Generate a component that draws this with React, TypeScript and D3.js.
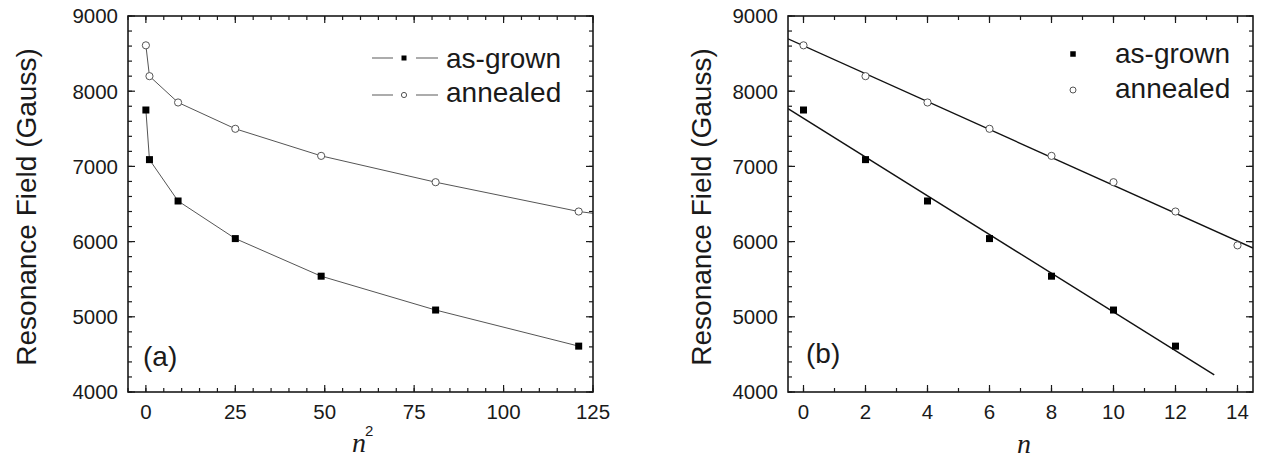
import React from "react";
import * as d3 from "d3";

// ---------- data ----------
const nSquaredAsGrown = [0, 1, 9, 25, 49, 81, 121];
const nSquaredAnnealed = [0, 1, 9, 25, 49, 81, 121, 196];
const nAsGrown = [0, 2, 4, 6, 8, 10, 12];
const nAnnealed = [0, 2, 4, 6, 8, 10, 12, 14];
const asGrown = [7750, 7090, 6540, 6040, 5540, 5090, 4610];
const annealed = [8610, 8200, 7850, 7500, 7140, 6790, 6400, 5950];
const fitRangeAsGrown = [-0.5, 13.25];
const fitRangeAnnealed = [-0.5, 14.5];

const xDomainA = [-5, 125];
const xDomainB = [-0.5, 14.5];
const yDomain = [4000, 9000];
const xTicksA = [0, 25, 50, 75, 100, 125];
const xTicksB = [0, 2, 4, 6, 8, 10, 12, 14];
const yTicks = [4000, 5000, 6000, 7000, 8000, 9000];
const seriesNames = ["as-grown", "annealed"];
const yTitle = "Resonance Field (Gauss)";

// ---------- style ----------
const W = 1266;
const H = 461;
const TOP = 16;
const BOTTOM = 392;
const FONT = "'Liberation Sans', Arial, sans-serif";
const SERIF = "'Liberation Serif', 'Times New Roman', serif";
const INK = "#1a1a1a";

function linReg(xs: number[], ys: number[]) {
  const mx = d3.mean(xs)!;
  const my = d3.mean(ys)!;
  let sxy = 0;
  let sxx = 0;
  xs.forEach((x, i) => {
    sxy += (x - mx) * (ys[i] - my);
    sxx += (x - mx) * (x - mx);
  });
  const slope = sxy / sxx;
  return { slope, intercept: my - slope * mx };
}

type AxesProps = {
  x: d3.ScaleLinear<number, number>;
  y: d3.ScaleLinear<number, number>;
  xMajor: number[];
  xMinor: number[];
  yMajor: number[];
  yMinor: number[];
};

function Axes({ x, y, xMajor, xMinor, yMajor, yMinor }: AxesProps) {
  const [l, r] = x.range();
  const [b, t] = y.range();
  const MAJ = 7;
  const MIN = 4;
  const els: React.ReactNode[] = [];
  xMinor.forEach((v, i) => {
    const px = x(v);
    els.push(<line key={"xb" + i} x1={px} x2={px} y1={b} y2={b - MIN} />);
    els.push(<line key={"xt" + i} x1={px} x2={px} y1={t} y2={t + MIN} />);
  });
  xMajor.forEach((v, i) => {
    const px = x(v);
    els.push(<line key={"xB" + i} x1={px} x2={px} y1={b} y2={b - MAJ} />);
    els.push(<line key={"xT" + i} x1={px} x2={px} y1={t} y2={t + MAJ} />);
  });
  yMinor.forEach((v, i) => {
    const py = y(v);
    els.push(<line key={"yl" + i} x1={l} x2={l + MIN} y1={py} y2={py} />);
    els.push(<line key={"yr" + i} x1={r} x2={r - MIN} y1={py} y2={py} />);
  });
  yMajor.forEach((v, i) => {
    const py = y(v);
    els.push(<line key={"yL" + i} x1={l} x2={l + MAJ} y1={py} y2={py} />);
    els.push(<line key={"yR" + i} x1={r} x2={r - MAJ} y1={py} y2={py} />);
  });
  return (
    <g>
      <g stroke={INK} strokeWidth={1.2}>{els}</g>
      <rect x={l} y={t} width={r - l} height={b - t} fill="none" stroke={INK} strokeWidth={1.6} />
      <g fontFamily={FONT} fontSize={20.5} fill={INK}>
        {xMajor.map((v) => (
          <text key={"xl" + v} x={x(v)} y={419} textAnchor="middle">
            {v}
          </text>
        ))}
        {yMajor.map((v) => (
          <text key={"yl" + v} x={l - 10} y={y(v)} dy="0.36em" textAnchor="end">
            {v}
          </text>
        ))}
      </g>
    </g>
  );
}

function Square({ cx, cy, s }: { cx: number; cy: number; s: number }) {
  return <rect x={cx - s / 2} y={cy - s / 2} width={s} height={s} fill="#000" />;
}
function Circle({ cx, cy, r }: { cx: number; cy: number; r: number }) {
  return <circle cx={cx} cy={cy} r={r} fill="#fff" stroke="#555" strokeWidth={1} />;
}

function PanelA() {
  const x = d3.scaleLinear().domain(xDomainA).range([128, 593]);
  const y = d3.scaleLinear().domain(yDomain).range([BOTTOM, TOP]);
  const line = d3
    .line<[number, number]>()
    .x((d) => x(d[0]))
    .y((d) => y(d[1]));
  const ag: [number, number][] = nSquaredAsGrown.map((v, i) => [v, asGrown[i]]);
  const an: [number, number][] = nSquaredAnnealed.map((v, i) => [v, annealed[i]]);
  return (
    <g>
      <defs>
        <clipPath id="clipA">
          <rect x={128} y={TOP} width={465} height={BOTTOM - TOP} />
        </clipPath>
      </defs>
      <g clipPath="url(#clipA)">
        <path d={line(ag)!} fill="none" stroke="#555" strokeWidth={1} />
        <path d={line(an)!} fill="none" stroke="#555" strokeWidth={1} />
        {ag.map((d, i) => (
          <Square key={"s" + i} cx={x(d[0])} cy={y(d[1])} s={7} />
        ))}
        {an.map((d, i) => (
          <Circle key={"c" + i} cx={x(d[0])} cy={y(d[1])} r={3.6} />
        ))}
      </g>
      <Axes
        x={x}
        y={y}
        xMajor={xTicksA}
        xMinor={d3.range(-5, 126, 5)}
        yMajor={yTicks}
        yMinor={d3.range(4000, 9001, 200)}
      />
      {/* legend */}
      <g stroke="#888" strokeWidth={1.4}>
        <line x1={372} x2={393} y1={58} y2={58} />
        <line x1={416} x2={438} y1={58} y2={58} />
        <line x1={372} x2={393} y1={95} y2={95} />
        <line x1={416} x2={438} y1={95} y2={95} />
      </g>
      <Square cx={404} cy={58} s={5} />
      <Circle cx={404} cy={95} r={2.6} />
      <g fontFamily={FONT} fontSize={28} fill={INK}>
        <text x={446} y={68}>{seriesNames[0]}</text>
        <text x={446} y={102}>{seriesNames[1]}</text>
        <text x={143} y={366}>(a)</text>
        <text transform={`translate(36,${(TOP + BOTTOM) / 2 + 3}) rotate(-90)`} textAnchor="middle">
          {yTitle}
        </text>
      </g>
      <text x={352} y={452} fontFamily={SERIF} fontStyle="italic" fontSize={28} fill={INK}>
        n
      </text>
      <text x={365} y={436} fontFamily={FONT} fontSize={15} fill={INK}>
        2
      </text>
    </g>
  );
}

function PanelB() {
  const x = d3.scaleLinear().domain(xDomainB).range([788, 1253]);
  const y = d3.scaleLinear().domain(yDomain).range([BOTTOM, TOP]);
  const fAg = linReg(nAsGrown, asGrown);
  const fAn = linReg(nAnnealed, annealed);
  const fitLine = (f: { slope: number; intercept: number }, rng: number[]) => (
    <line
      x1={x(rng[0])}
      x2={x(rng[1])}
      y1={y(f.intercept + f.slope * rng[0])}
      y2={y(f.intercept + f.slope * rng[1])}
      stroke="#111"
      strokeWidth={1.4}
    />
  );
  return (
    <g>
      <defs>
        <clipPath id="clipB">
          <rect x={788} y={TOP} width={465} height={BOTTOM - TOP} />
        </clipPath>
      </defs>
      <g clipPath="url(#clipB)">
        {fitLine(fAg, fitRangeAsGrown)}
        {fitLine(fAn, fitRangeAnnealed)}
        {nAsGrown.map((v, i) => (
          <Square key={"s" + i} cx={x(v)} cy={y(asGrown[i])} s={7} />
        ))}
        {nAnnealed.map((v, i) => (
          <Circle key={"c" + i} cx={x(v)} cy={y(annealed[i])} r={3.6} />
        ))}
      </g>
      <Axes
        x={x}
        y={y}
        xMajor={xTicksB}
        xMinor={d3.range(0, 15, 1)}
        yMajor={yTicks}
        yMinor={d3.range(4000, 9001, 200)}
      />
      <Square cx={1073} cy={54} s={5.5} />
      <Circle cx={1073} cy={90} r={3} />
      <g fontFamily={FONT} fontSize={28} fill={INK}>
        <text x={1115} y={63}>{seriesNames[0]}</text>
        <text x={1115} y={98}>{seriesNames[1]}</text>
        <text x={806} y={363}>(b)</text>
        <text transform={`translate(711,${(TOP + BOTTOM) / 2 + 3}) rotate(-90)`} textAnchor="middle">
          {yTitle}
        </text>
      </g>
      <text x={1017} y={453} fontFamily={SERIF} fontStyle="italic" fontSize={28} fill={INK}>
        n
      </text>
    </g>
  );
}

export default function App() {
  return (
    <svg
      width={W}
      height={H}
      viewBox={`0 0 ${W} ${H}`}
      style={{ position: "absolute", left: 0, top: 0, background: "#fff", display: "block" }}
    >
      <rect width={W} height={H} fill="#fff" />
      <PanelA />
      <PanelB />
    </svg>
  );
}
